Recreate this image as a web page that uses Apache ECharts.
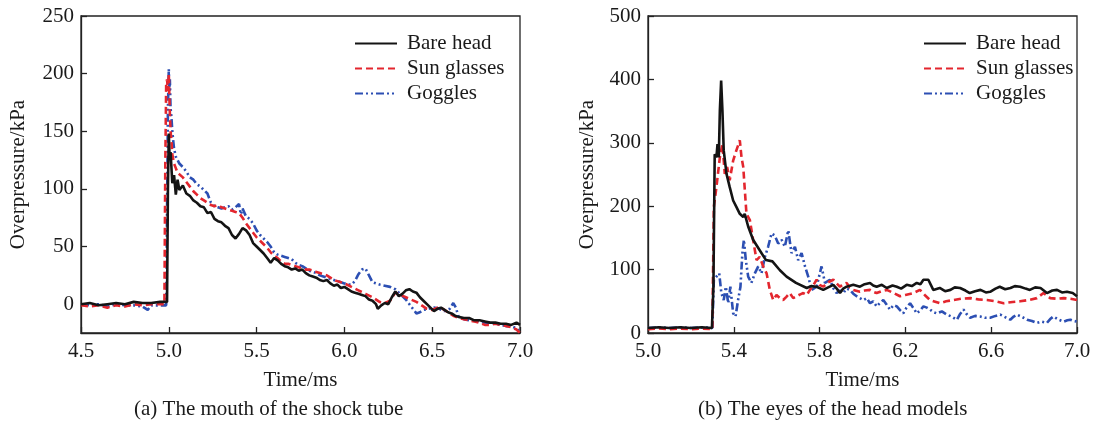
<!DOCTYPE html>
<html><head><meta charset="utf-8">
<script src="https://cdn.jsdelivr.net/npm/echarts@6/dist/echarts.min.js"></script>
<style>html,body{margin:0;padding:0;background:#fff}#c{width:1106px;height:427px}</style>
</head><body><div id="c"></div>
<script>
// ---------- Data: (a) The mouth of the shock tube ----------
const seriesNames = ['Bare head', 'Sun glasses', 'Goggles'];
const xTicksA = [4.5, 5.0, 5.5, 6.0, 6.5, 7.0];
const yTicksA = [0, 50, 100, 150, 200, 250];
const xTicksB = [5.0, 5.4, 5.8, 6.2, 6.6, 7.0];
const yTicksB = [0, 100, 200, 300, 400, 500];
const captionA = '(a) The mouth of the shock tube';
const captionB = '(b) The eyes of the head models';

const tA_bare = [4.5,4.55,4.6,4.65,4.7,4.75,4.8,4.85,4.9,4.95,4.99,4.995,5.0,5.005,5.01,5.02,5.03,5.04,5.05,5.06,5.08,5.1,5.12,5.14,5.16,5.18,5.2,5.22,5.24,5.26,5.28,5.3,5.32,5.34,5.36,5.38,5.4,5.42,5.44,5.46,5.48,5.5,5.52,5.54,5.56,5.58,5.6,5.62,5.64,5.66,5.68,5.7,5.72,5.74,5.76,5.78,5.8,5.82,5.84,5.86,5.88,5.9,5.92,5.94,5.96,5.98,6.0,6.02,6.04,6.06,6.08,6.1,6.12,6.14,6.16,6.18,6.19,6.21,6.23,6.25,6.27,6.29,6.31,6.33,6.35,6.37,6.39,6.41,6.43,6.45,6.47,6.49,6.51,6.53,6.55,6.57,6.59,6.61,6.63,6.65,6.68,6.71,6.74,6.77,6.8,6.83,6.86,6.89,6.92,6.95,6.98,7.0];
const pA_bare = [0,1,-1,0,1,0,2,1,1,2,2,100,148,125,132,105,112,95,108,99,103,96,94,90,88,85,84,79,80,74,72,71,68,66,60,57,61,66,64,60,53,50,47,44,40,36,40,38,35,33,32,30,31,29,30,27,25,24,23,21,20,21,18,16,17,14,15,13,11,10,9,8,7,4,3,0,-4,-1,1,0,6,11,7,9,12,13,11,10,6,3,0,-3,-6,-4,-3,-5,-7,-8,-10,-11,-12,-12,-14,-14,-15,-16,-16,-17,-17,-18,-16,-18];

const tA_sun = [4.5,4.55,4.6,4.65,4.7,4.75,4.8,4.85,4.9,4.95,4.975,4.98,4.985,4.99,4.995,5.0,5.005,5.01,5.015,5.02,5.03,5.04,5.05,5.06,5.08,5.1,5.12,5.14,5.16,5.18,5.2,5.22,5.24,5.26,5.28,5.3,5.32,5.34,5.36,5.38,5.4,5.42,5.44,5.46,5.48,5.5,5.52,5.54,5.56,5.58,5.6,5.62,5.64,5.66,5.68,5.7,5.72,5.74,5.76,5.78,5.8,5.82,5.84,5.86,5.88,5.9,5.92,5.94,5.96,5.98,6.0,6.04,6.08,6.12,6.16,6.2,6.23,6.26,6.29,6.32,6.35,6.38,6.41,6.44,6.47,6.5,6.53,6.56,6.59,6.62,6.65,6.68,6.71,6.74,6.77,6.8,6.83,6.86,6.89,6.92,6.95,6.98,7.0];
const pA_sun = [-1,-2,-1,-3,-1,-2,0,-1,0,0,0,120,190,195,185,200,170,150,142,130,122,118,114,113,110,106,102,98,95,92,90,88,86,85,86,84,83,82,81,80,79,75,70,66,62,58,55,52,49,45,42,40,37,35,35,34,33,32,31,30,30,29,28,27,26,25,23,21,20,19,18,15,12,9,6,2,1,3,10,8,6,4,2,-1,-4,-5,-3,-4,-7,-10,-12,-13,-14,-15,-16,-18,-18,-17,-18,-19,-20,-22,-25];

const tA_gog = [4.5,4.55,4.6,4.65,4.7,4.75,4.8,4.85,4.88,4.9,4.95,4.985,4.99,4.995,5.0,5.003,5.006,5.01,5.015,5.02,5.025,5.03,5.04,5.05,5.06,5.07,5.08,5.09,5.1,5.12,5.14,5.16,5.18,5.2,5.22,5.24,5.26,5.28,5.3,5.32,5.34,5.36,5.38,5.4,5.41,5.42,5.44,5.46,5.48,5.5,5.52,5.54,5.56,5.58,5.6,5.62,5.64,5.66,5.68,5.7,5.72,5.74,5.76,5.78,5.8,5.82,5.84,5.86,5.88,5.9,5.92,5.94,5.96,5.98,6.0,6.02,6.04,6.06,6.08,6.1,6.12,6.14,6.16,6.18,6.2,6.23,6.26,6.29,6.31,6.33,6.35,6.37,6.39,6.41,6.43,6.45,6.48,6.51,6.54,6.57,6.6,6.62,6.635,6.65,6.68,6.71,6.74,6.77,6.8,6.83,6.86,6.89,6.92,6.95,6.98,7.0];
const pA_gog = [0,-1,0,-2,0,-1,-1,-2,-5,-1,-1,-1,80,170,204,185,195,170,162,150,142,135,128,125,122,121,119,120,115,110,108,104,102,99,96,88,85,84,83,84,85,82,84,87,78,83,76,74,70,64,60,57,54,50,45,43,42,41,40,39,36,34,33,31,29,28,27,25,24,23,22,21,20,19,18,17,17,20,26,30,31,25,19,18,17,16,15,13,10,7,4,0,-4,-8,-7,-5,-4,-3,-4,-6,-4,1,-3,-11,-13,-14,-14,-15,-16,-16,-17,-18,-19,-19,-21,-24];

// ---------- Data: (b) The eyes of the head models ----------
const tB_bare = [5.0,5.05,5.1,5.15,5.2,5.25,5.298,5.305,5.311,5.319,5.324,5.33,5.335,5.341,5.347,5.353,5.366,5.381,5.397,5.412,5.428,5.444,5.451,5.467,5.49,5.52,5.55,5.58,5.615,5.646,5.69,5.74,5.76,5.786,5.817,5.84,5.864,5.88,5.895,5.91,5.926,5.957,5.988,6.01,6.035,6.05,6.066,6.09,6.113,6.14,6.16,6.18,6.206,6.23,6.253,6.27,6.284,6.307,6.33,6.36,6.385,6.41,6.43,6.455,6.48,6.5,6.525,6.55,6.575,6.595,6.62,6.64,6.665,6.69,6.71,6.735,6.76,6.78,6.805,6.83,6.86,6.885,6.907,6.93,6.953,6.98,7.0];
const pB_bare = [8,9,8,9,8,9,8,73,282,277,298,277,351,398,351,288,251,230,209,199,188,183,188,168,147,131,115,113,99,89,79,71,74,73,68,72,76,70,63,70,73,76,73,77,79,75,73,76,71,75,73,70,76,74,79,77,84,84,68,71,66,68,72,71,67,63,66,68,64,65,70,73,69,71,74,73,70,68,72,71,63,67,68,64,65,63,58];

const tB_sun = [5.0,5.05,5.1,5.15,5.2,5.25,5.3,5.307,5.319,5.335,5.347,5.358,5.369,5.381,5.397,5.412,5.428,5.436,5.444,5.459,5.475,5.49,5.506,5.521,5.537,5.553,5.568,5.584,5.599,5.615,5.63,5.645,5.661,5.677,5.693,5.71,5.724,5.74,5.755,5.77,5.786,5.8,5.817,5.84,5.864,5.88,5.895,5.91,5.926,5.94,5.957,5.988,6.01,6.035,6.05,6.066,6.09,6.113,6.14,6.175,6.2,6.237,6.268,6.29,6.315,6.36,6.39,6.424,6.46,6.502,6.54,6.58,6.62,6.658,6.7,6.735,6.775,6.813,6.844,6.875,6.91,6.938,6.97,7.0];
const pB_sun = [6,7,6,7,6,7,6,199,230,277,298,251,262,241,272,288,304,277,262,188,178,147,115,120,105,94,68,52,60,55,52,57,63,55,58,61,63,60,68,75,84,76,73,80,84,78,73,77,79,72,68,65,67,68,65,63,66,68,64,58,60,63,68,60,52,47,50,52,54,55,53,52,50,47,49,50,52,55,63,55,54,55,54,52];

const tB_gog = [5.0,5.05,5.1,5.15,5.2,5.25,5.3,5.307,5.319,5.332,5.342,5.353,5.363,5.374,5.384,5.397,5.408,5.42,5.431,5.44,5.447,5.456,5.467,5.482,5.498,5.514,5.529,5.545,5.56,5.576,5.591,5.607,5.623,5.638,5.654,5.669,5.685,5.7,5.716,5.732,5.747,5.763,5.786,5.809,5.825,5.848,5.865,5.879,5.895,5.911,5.925,5.942,5.957,5.973,6.004,6.02,6.035,6.05,6.066,6.08,6.097,6.112,6.128,6.145,6.16,6.175,6.19,6.205,6.222,6.24,6.253,6.27,6.284,6.3,6.315,6.33,6.346,6.37,6.393,6.415,6.44,6.455,6.471,6.485,6.502,6.525,6.549,6.57,6.595,6.62,6.642,6.665,6.689,6.705,6.72,6.745,6.767,6.79,6.813,6.835,6.86,6.875,6.89,6.915,6.938,6.955,6.969,6.985,7.0];
const pB_gog = [8,9,8,9,8,9,8,84,89,94,63,52,73,47,73,31,26,52,73,126,147,115,89,79,94,105,94,120,136,157,154,141,147,136,162,126,136,115,126,105,89,68,73,105,79,84,70,63,67,63,70,68,62,58,52,55,47,50,42,47,52,45,37,44,42,36,31,40,47,38,31,36,42,40,37,33,31,34,29,26,21,30,37,30,24,27,26,24,24,27,29,25,21,26,29,25,21,19,16,18,16,22,26,21,18,20,21,19,18];

function zip(t, p) { return t.map((x, i) => [x, p[i]]); }

const FONT = 'Liberation Serif';
const FS = 21;
const TXT = '#1a1a1a';
const COLORS = ['#141414', '#e3262e', '#2c4fb3'];
const LINESTYLES = [
  { width: 2.6, type: 'solid' },
  { width: 2.6, type: [7, 4] },
  { width: 2.6, type: [8, 3, 2, 3, 2, 3] }
];

function xAxisCfg(gi, min, max, ticks) {
  return {
    type: 'value', gridIndex: gi, min: min, max: max,
    name: 'Time/ms', nameLocation: 'middle', nameGap: 37,
    nameTextStyle: { fontFamily: FONT, fontSize: FS, color: TXT },
    axisLine: { show: true, onZero: false, lineStyle: { color: '#222', width: 1.3 } },
    axisTick: { show: true, inside: true, length: 6, customValues: ticks, lineStyle: { color: '#222', width: 1.3 } },
    axisLabel: { customValues: ticks, margin: 8, fontFamily: FONT, fontSize: FS, color: TXT,
      formatter: v => Number(v).toFixed(1) },
    splitLine: { show: false }
  };
}
function yAxisCfg(gi, min, max, ticks, gap) {
  return {
    type: 'value', gridIndex: gi, min: min, max: max,
    name: 'Overpressure/kPa', nameLocation: 'middle', nameGap: gap, nameRotate: 90,
    nameTextStyle: { fontFamily: FONT, fontSize: FS, color: TXT },
    axisLine: { show: true, onZero: false, lineStyle: { color: '#222', width: 1.3 } },
    axisTick: { show: true, inside: true, length: 6, customValues: ticks, lineStyle: { color: '#222', width: 1.3 } },
    axisLabel: { customValues: ticks, margin: 7, fontFamily: FONT, fontSize: FS, color: TXT },
    splitLine: { show: false }
  };
}

const dataA = [zip(tA_bare, pA_bare), zip(tA_sun, pA_sun), zip(tA_gog, pA_gog)];
const dataB = [zip(tB_bare, pB_bare), zip(tB_sun, pB_sun), zip(tB_gog, pB_gog)];

const series = [];
[dataA, dataB].forEach((set, gi) => {
  set.forEach((d, k) => {
    series.push({
      type: 'line', name: seriesNames[k], xAxisIndex: gi, yAxisIndex: gi,
      data: d, showSymbol: false, symbol: 'none', animation: false,
      lineStyle: Object.assign({ color: COLORS[k] }, LINESTYLES[k]),
      itemStyle: { color: COLORS[k] }, z: 3 - k
    });
  });
});

function legendCfg(left) {
  return {
    orient: 'vertical', left: left, top: 33, padding: 0, itemWidth: 42, itemHeight: 14, itemGap: 4,
    data: seriesNames.map(n => ({ name: n })),
    itemStyle: { opacity: 0 },
    textStyle: { fontFamily: FONT, fontSize: FS, color: TXT, padding: [0, 0, 0, 5] },
    selectedMode: false
  };
}

const chart = echarts.init(document.getElementById('c'), null, { renderer: 'canvas' });
chart.setOption({
  animation: false,
  backgroundColor: '#fff',
  grid: [
    { left: 81, top: 16, width: 439, height: 317, show: true, borderColor: '#222', borderWidth: 1.3, backgroundColor: 'transparent' },
    { left: 648, top: 16, width: 429, height: 317, show: true, borderColor: '#222', borderWidth: 1.3, backgroundColor: 'transparent' }
  ],
  xAxis: [xAxisCfg(0, 4.5, 7.0, xTicksA), xAxisCfg(1, 5.0, 7.0, xTicksB)],
  yAxis: [yAxisCfg(0, -25, 250, yTicksA, 52), yAxisCfg(1, 0, 500, yTicksB, 50)],
  legend: [legendCfg(354), legendCfg(923)],
  series: series,
  graphic: [
    { type: 'text', left: 134, top: 399, style: { text: captionA, font: FS + 'px "Liberation Serif"', fill: TXT } },
    { type: 'text', left: 698, top: 399, style: { text: captionB, font: FS + 'px "Liberation Serif"', fill: TXT } }
  ]
});
</script></body></html>
